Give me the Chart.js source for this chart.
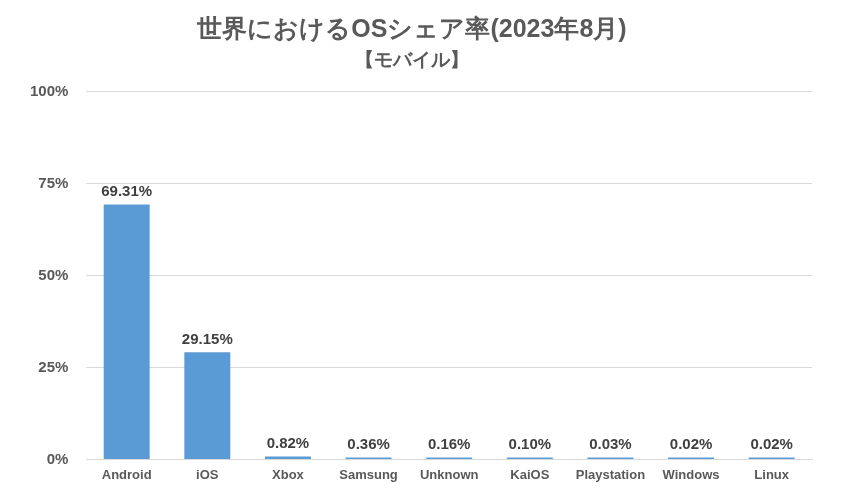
<!DOCTYPE html>
<html>
<head>
<meta charset="utf-8">
<script src="https://cdn.jsdelivr.net/npm/chart.js@4.4.0/dist/chart.umd.min.js"></script>
<style>
  html, body { margin: 0; padding: 0; background: #fff; }
  #wrap { width: 847px; height: 498px; }
</style>
</head>
<body>
<div id="wrap"><canvas id="osChart"></canvas></div>
<script>
// データ
const categories = ['Android', 'iOS', 'Xbox', 'Samsung', 'Unknown', 'KaiOS', 'Playstation', 'Windows', 'Linux'];
const shareValues = [69.31, 29.15, 0.82, 0.36, 0.16, 0.10, 0.03, 0.02, 0.02];
const yTicks = [0, 25, 50, 75, 100];

const textColor = '#595959';
const fontFamily = '"Liberation Sans", Arial, sans-serif';

// 棒の上に値を描く
const valueLabels = {
    id: 'valueLabels',
    afterDatasetsDraw(chart) {
        const ctx = chart.ctx;
        const meta = chart.getDatasetMeta(0);
        ctx.save();
        ctx.font = 'bold 15px ' + fontFamily;
        ctx.fillStyle = '#404040';
        ctx.textAlign = 'center';
        ctx.textBaseline = 'bottom';
        meta.data.forEach((bar, i) => {
            ctx.fillText(shareValues[i].toFixed(2) + '%', bar.x, bar.y - 5);
        });
        ctx.restore();
    }
};

document.addEventListener('DOMContentLoaded', () => {
    const ctx = document.getElementById('osChart').getContext('2d');
    new Chart(ctx, {
        type: 'bar',
        data: {
            labels: categories,
            datasets: [{
                data: shareValues,
                backgroundColor: '#5B9BD5',
                categoryPercentage: 1.0,
                barPercentage: 0.57,
                minBarLength: 2
            }]
        },
        options: {
            responsive: true,
            maintainAspectRatio: false,
            animation: false,
            layout: { padding: { left: 12, right: 35, top: 8, bottom: 15 } },
            plugins: {
                legend: { display: false },
                tooltip: { enabled: false },
                title: {
                    display: true,
                    text: '世界におけるOSシェア率(2023年8月)',
                    color: textColor,
                    font: { family: fontFamily, size: 25, weight: 'bold' },
                    padding: { top: 7, bottom: 4 }
                },
                subtitle: {
                    display: true,
                    text: '【モバイル】',
                    color: textColor,
                    font: { family: fontFamily, size: 19, weight: 'bold' },
                    padding: { bottom: 20 }
                }
            },
            scales: {
                y: {
                    min: 0,
                    max: 100,
                    afterBuildTicks: (axis) => { axis.ticks = yTicks.map(v => ({ value: v })); },
                    ticks: {
                        color: textColor,
                        font: { family: fontFamily, size: 15, weight: 'bold' },
                        padding: 18,
                        callback: (v) => v + '%'
                    },
                    grid: { color: '#D9D9D9', drawTicks: false },
                    border: { display: false }
                },
                x: {
                    ticks: {
                        color: textColor,
                        font: { family: fontFamily, size: 13, weight: 'bold' },
                        padding: 0
                    },
                    grid: { display: false },
                    border: { color: '#D9D9D9' }
                }
            }
        },
        plugins: [valueLabels]
    });
});
</script>
</body>
</html>
